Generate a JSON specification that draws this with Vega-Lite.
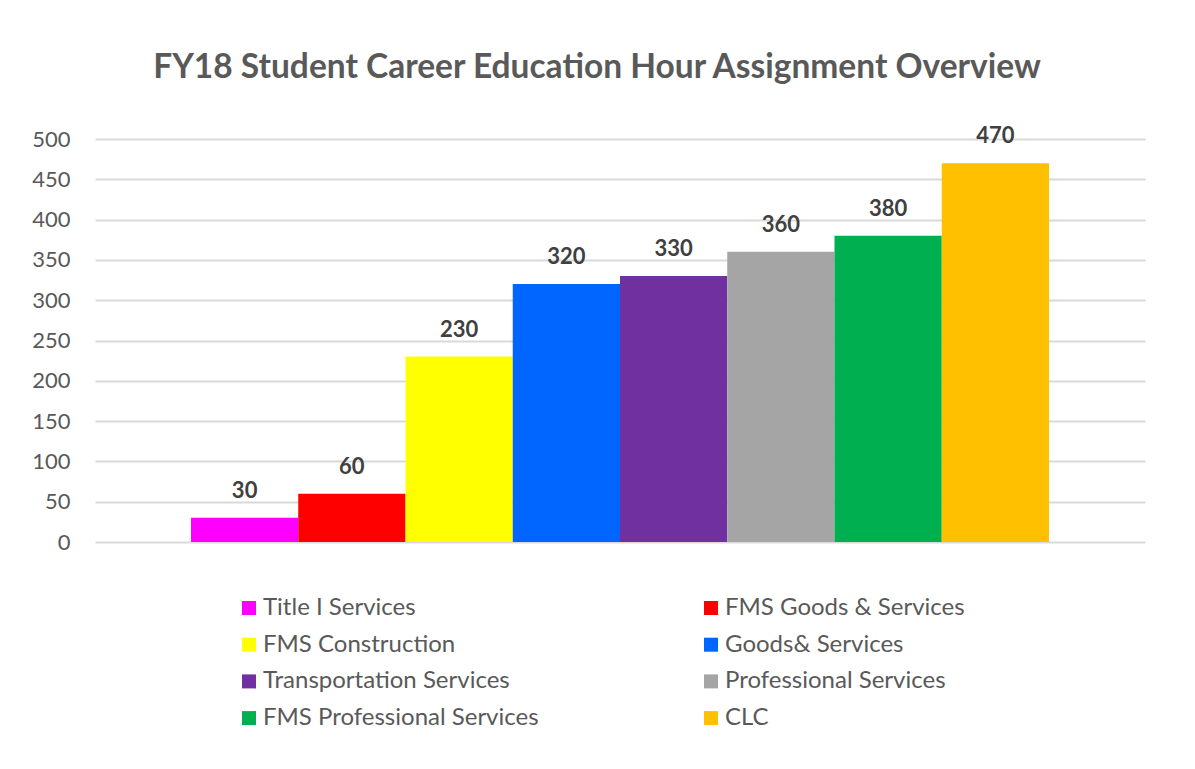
{
  "$schema": "https://vega.github.io/schema/vega-lite/v6.json",
  "width": 1050,
  "height": 403,
  "autosize": {"type": "none"},
  "padding": {"left": 95, "top": 139, "right": 50, "bottom": 227},
  "background": "white",
  "title": {
    "text": "FY18 Student Career Education Hour Assignment Overview",
    "font": "Lato",
    "fontSize": 33.5,
    "fontWeight": "bold",
    "color": "#595959",
    "anchor": "middle",
    "frame": "group",
    "dx": -23,
    "offset": 40
  },
  "data": {
    "values": [
      {"group": "FY18", "category": "Title I Services", "hours": 30},
      {"group": "FY18", "category": "FMS Goods & Services", "hours": 60},
      {"group": "FY18", "category": "FMS Construction", "hours": 230},
      {"group": "FY18", "category": "Goods& Services", "hours": 320},
      {"group": "FY18", "category": "Transportation Services", "hours": 330},
      {"group": "FY18", "category": "Professional Services", "hours": 360},
      {"group": "FY18", "category": "FMS Professional Services", "hours": 380},
      {"group": "FY18", "category": "CLC", "hours": 470}
    ]
  },
  "encoding": {
    "x": {
      "field": "group",
      "type": "nominal",
      "scale": {"paddingInner": 0, "paddingOuter": 0.1119},
      "axis": null
    },
    "xOffset": {
      "field": "category",
      "type": "nominal",
      "sort": ["Title I Services", "FMS Goods & Services", "FMS Construction", "Goods& Services", "Transportation Services", "Professional Services", "FMS Professional Services", "CLC"],
      "scale": {"paddingInner": 0, "paddingOuter": 0}
    },
    "y": {
      "field": "hours",
      "type": "quantitative",
      "scale": {"domain": [0, 500], "nice": false},
      "axis": {
        "title": null,
        "values": [0, 50, 100, 150, 200, 250, 300, 350, 400, 450, 500],
        "domain": false,
        "ticks": false,
        "labelPadding": 25,
        "labelFont": "Lato",
        "labelFontSize": 22,
        "labelColor": "#595959",
        "gridColor": "#D9D9D9",
        "gridWidth": 2
      }
    }
  },
  "layer": [
    {
      "mark": {"type": "bar"},
      "encoding": {
        "color": {
          "field": "category",
          "type": "nominal",
          "scale": {
            "domain": ["Title I Services", "FMS Goods & Services", "FMS Construction", "Goods& Services", "Transportation Services", "Professional Services", "FMS Professional Services", "CLC"],
            "range": ["#FF00FF", "#FF0000", "#FFFF00", "#0066FF", "#7030A0", "#A5A5A5", "#00B050", "#FFC000"]
          },
          "legend": {
            "title": null,
            "orient": "none",
            "legendX": 142,
            "legendY": 457,
            "direction": "horizontal",
            "columns": 2,
            "columnPadding": 160,
            "rowPadding": 12.7,
            "padding": 0,
            "symbolType": "square",
            "symbolSize": 196,
            "symbolStrokeWidth": 0,
            "symbolOpacity": 1,
            "labelFont": "Lato",
            "labelFontSize": 24,
            "labelColor": "#595959",
            "labelOffset": 2,
            "labelLimit": 400
          }
        }
      }
    },
    {
      "mark": {"type": "text", "font": "Lato", "fontSize": 22, "fontWeight": "bold", "color": "#404040", "baseline": "middle", "dy": -27},
      "encoding": {
        "text": {"field": "hours", "type": "quantitative"}
      }
    }
  ],
  "config": {
    "view": {"stroke": null}
  }
}
